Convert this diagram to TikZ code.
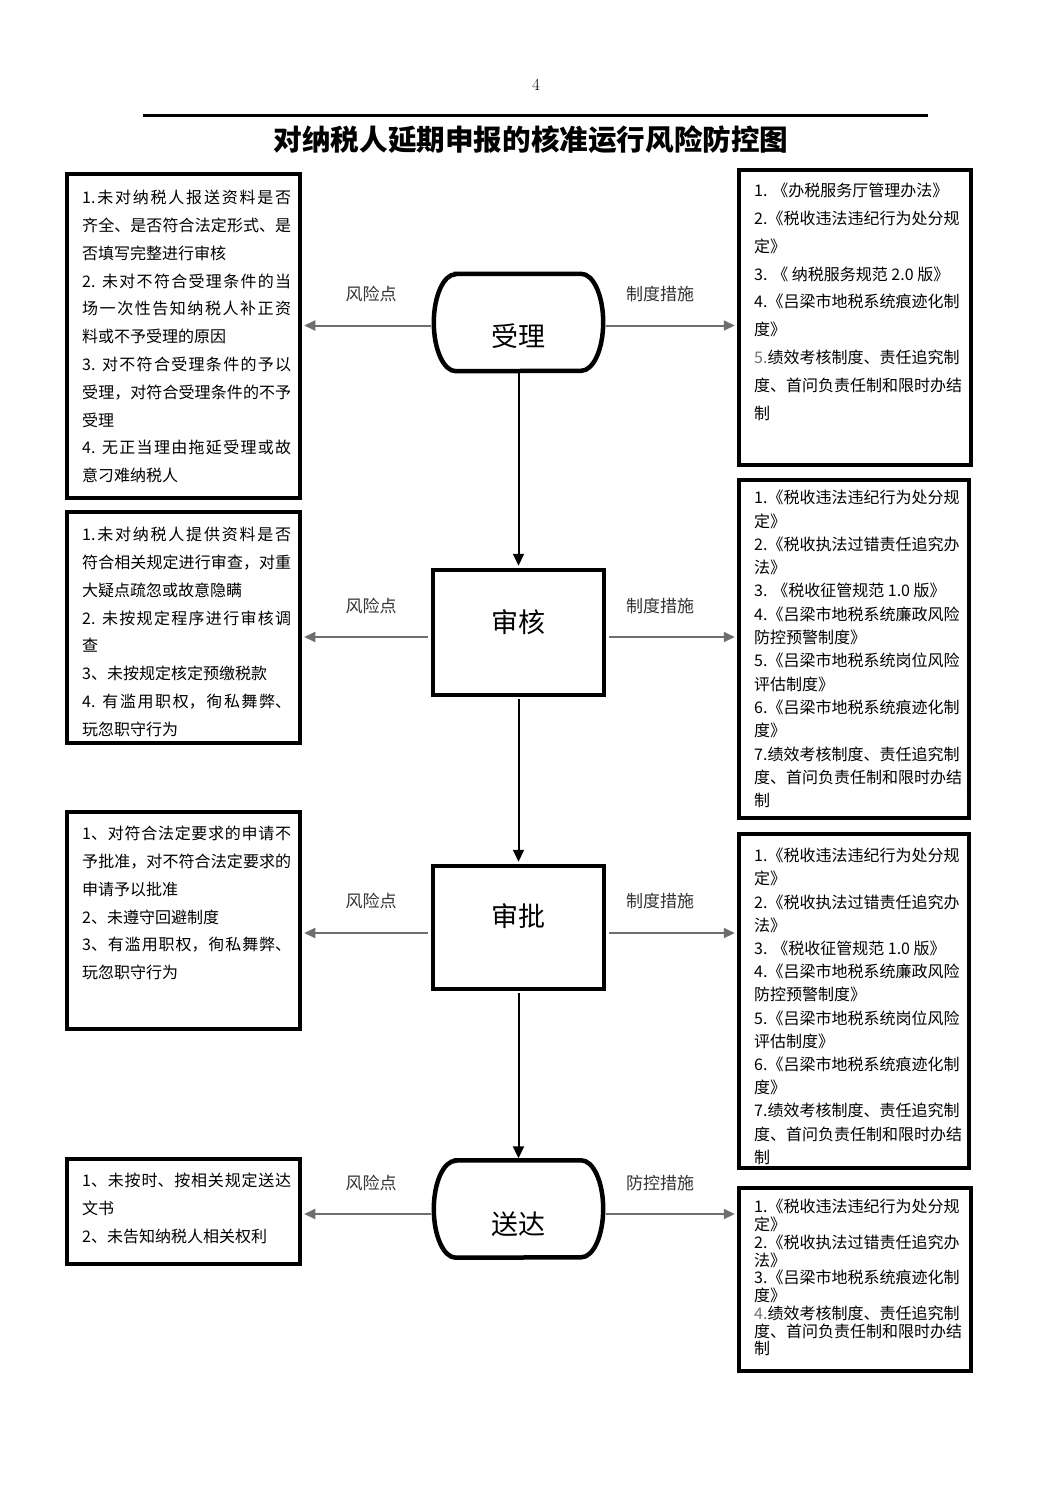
\documentclass[tikz,border=0pt]{standalone}
\usepackage{fontspec}
\newfontfamily\cjk{Noto Sans CJK SC}
\usetikzlibrary{arrows.meta}
\XeTeXlinebreaklocale "zh"
\XeTeXlinebreakskip=0pt plus 4pt
\setlength{\parindent}{0pt}
\lineskiplimit=-100pt
\lineskip=0pt
\definecolor{arrgray}{HTML}{6E6E6E}
\definecolor{lblcol}{HTML}{333333}
\tikzset{
  bx/.style={draw=black, line width=4.5pt, fill=white, inner sep=0pt},
  cshape/.style={draw=none, inner sep=0pt},
  rbox/.style={draw=black, line width=4.5pt, fill=white, inner sep=0pt},
  stadium/.style={draw=black, line width=4.5pt, fill=white},
  ctext/.style={font=\cjk\fontsize{27}{27}\selectfont, inner sep=0pt},
  lbl/.style={font=\cjk\fontsize{17}{17}\selectfont, text=lblcol, inner sep=0pt},
  ltext/.style={anchor=north west, inner sep=0pt, text width=209pt, align=justify,
    font=\cjk\fontsize{16}{27.8}\selectfont},
  rtext/.style={anchor=north west, inner sep=0pt, align=left,
    font=\cjk\fontsize{16}{#1}\selectfont},
  garrow/.style={draw=arrgray, line width=2pt, -{Triangle[length=11pt,width=10pt]},
    shorten <=2.5pt, shorten >=2pt},
  varrow/.style={draw=black, line width=2pt, -{Triangle[length=12pt,width=11pt]},
    shorten <=2pt, shorten >=2pt},
}
\newcommand{\stadiumpath}[1]{%
  \draw[stadium] ([xshift=22pt]#1.north west) -- ([xshift=-22pt]#1.north east)
    arc[start angle=90,end angle=-90,x radius=22pt,y radius=48.5pt]
    -- ([xshift=22pt]#1.south west)
    arc[start angle=270,end angle=90,x radius=22pt,y radius=48.5pt] -- cycle;}
\begin{document}
\begin{tikzpicture}[x=1pt,y=-1pt]
\fill[white] (0,0) rectangle (1063,1502);
\useasboundingbox (0,0) rectangle (1063,1502);

% header
\node[font=\fontsize{17}{17}\selectfont, inner sep=0pt] (pg) at (536,85) {4};
\coordinate (ruleA) at (143,115);
\coordinate (ruleB) at (928,115);
\draw[line width=3pt] (ruleA) -- (ruleB);
\node[font=\cjk\bfseries\fontsize{28.6}{28.6}\selectfont, inner sep=0pt] (title) at (531,140) {对纳税人延期申报的核准运行风险防控图};

% side boxes
\node[bx, minimum width=233pt, minimum height=324pt] (l1) at (183.5,336) {};
\node[bx, minimum width=233pt, minimum height=231pt] (l2) at (183.5,627.5) {};
\node[bx, minimum width=233pt, minimum height=217pt] (l3) at (183.5,920.5) {};
\node[bx, minimum width=233pt, minimum height=105pt] (l4) at (183.5,1211.5) {};
\node[bx, minimum width=232pt, minimum height=295pt] (r1) at (855,317.5) {};
\node[bx, minimum width=230pt, minimum height=338pt] (r2) at (854,649) {};
\node[bx, minimum width=230pt, minimum height=334pt] (r3) at (854,1001) {};
\node[bx, minimum width=232pt, minimum height=183pt] (r4) at (855,1279.5) {};

% center nodes
\node[cshape, minimum width=169pt, minimum height=97pt] (sl) at (518.5,322.5) {};
\node[rbox, minimum width=171pt, minimum height=125pt] (sh) at (518.5,632.5) {};
\node[rbox, minimum width=171pt, minimum height=123pt] (sp) at (518.5,927.5) {};
\node[cshape, minimum width=169pt, minimum height=97pt] (sd) at (518.5,1209) {};
\stadiumpath{sl}
\stadiumpath{sd}
\node[ctext] (slt) at (518.5,336) {受理};
\node[ctext] (sht) at (518.5,622) {审核};
\node[ctext] (spt) at (518.5,916) {审批};
\node[ctext] (sdt) at (518.5,1224) {送达};

% vertical arrows
\draw[varrow] (sl.south) -- (sh.north);
\draw[varrow] (sh.south) -- (sp.north);
\draw[varrow] (sp.south) -- (sd.north);

% horizontal arrows
\coordinate (a1) at ([yshift=-3pt]sl.west);
\coordinate (b1) at ([yshift=-3pt]sl.east);
\coordinate (a2) at ([yshift=-4.5pt]sh.west);
\coordinate (b2) at ([yshift=-4.5pt]sh.east);
\coordinate (a3) at ([yshift=-5.5pt]sp.west);
\coordinate (b3) at ([yshift=-5.5pt]sp.east);
\coordinate (a4) at ([yshift=-5pt]sd.west);
\coordinate (b4) at ([yshift=-5pt]sd.east);
\draw[garrow] (a1) -- (a1 -| l1.east);
\draw[garrow] (b1) -- (b1 -| r1.west);
\draw[garrow] (a2) -- (a2 -| l2.east);
\draw[garrow] (b2) -- (b2 -| r2.west);
\draw[garrow] (a3) -- (a3 -| l3.east);
\draw[garrow] (b3) -- (b3 -| r3.west);
\draw[garrow] (a4) -- (a4 -| l4.east);
\draw[garrow] (b4) -- (b4 -| r4.west);

% labels
\node[lbl] (k1) at (371,294) {风险点};
\node[lbl] (z1) at (660,294) {制度措施};
\node[lbl] (k2) at (371,606) {风险点};
\node[lbl] (z2) at (660,606) {制度措施};
\node[lbl] (k3) at (371,901) {风险点};
\node[lbl] (z3) at (660,901) {制度措施};
\node[lbl] (k4) at (371,1183) {风险点};
\node[lbl] (z4) at (660,1183) {防控措施};

% left texts
\node[ltext] (l1t) at (82,190) {1.未对纳税人报送资料是否\break
齐全、是否符合法定形式、是\break
否填写完整进行审核\\
2. 未对不符合受理条件的当\break
场一次性告知纳税人补正资\break
料或不予受理的原因\\
3. 对不符合受理条件的予以\break
受理，对符合受理条件的不予\break
受理\\
4. 无正当理由拖延受理或故\break
意刁难纳税人};

\node[ltext] (l2t) at (82,527) {1.未对纳税人提供资料是否\break
符合相关规定进行审查，对重\break
大疑点疏忽或故意隐瞒\\
2. 未按规定程序进行审核调\break
查\\
3、未按规定核定预缴税款\\
4. 有滥用职权，徇私舞弊、\break
玩忽职守行为};

\node[ltext] (l3t) at (82,826) {1、对符合法定要求的申请不\break
予批准，对不符合法定要求的\break
申请予以批准\\
2、未遵守回避制度\\
3、有滥用职权，徇私舞弊、\break
玩忽职守行为};

\node[ltext] (l4t) at (82,1173) {1、未按时、按相关规定送达\break
文书\\
2、未告知纳税人相关权利};

% right texts
\node[rtext=27.8] (r1t) at (754,183) {1. 《办税服务厅管理办法》\\
2.《税收违法违纪行为处分规\\
定》\\
3. 《 纳税服务规范 2.0 版》\\
4.《吕梁市地税系统痕迹化制\\
度》\\
\textcolor{black!55}{5.}绩效考核制度、责任追究制\\
度、首问负责任制和限时办结\\
制};

\node[rtext=23.3] (r2t) at (754,490) {1.《税收违法违纪行为处分规\\
定》\\
2.《税收执法过错责任追究办\\
法》\\
3. 《税收征管规范 1.0 版》\\
4.《吕梁市地税系统廉政风险\\
防控预警制度》\\
5.《吕梁市地税系统岗位风险\\
评估制度》\\
6.《吕梁市地税系统痕迹化制\\
度》\\
7.绩效考核制度、责任追究制\\
度、首问负责任制和限时办结\\
制};

\node[rtext=23.2] (r3t) at (754,848) {1.《税收违法违纪行为处分规\\
定》\\
2.《税收执法过错责任追究办\\
法》\\
3. 《税收征管规范 1.0 版》\\
4.《吕梁市地税系统廉政风险\\
防控预警制度》\\
5.《吕梁市地税系统岗位风险\\
评估制度》\\
6.《吕梁市地税系统痕迹化制\\
度》\\
7.绩效考核制度、责任追究制\\
度、首问负责任制和限时办结\\
制};

\node[rtext=17.75] (r4t) at (754,1199) {1.《税收违法违纪行为处分规\\
定》\\
2.《税收执法过错责任追究办\\
法》\\
3.《吕梁市地税系统痕迹化制\\
度》\\
\textcolor{black!55}{4.}绩效考核制度、责任追究制\\
度、首问负责任制和限时办结\\
制};

\end{tikzpicture}
\end{document}
